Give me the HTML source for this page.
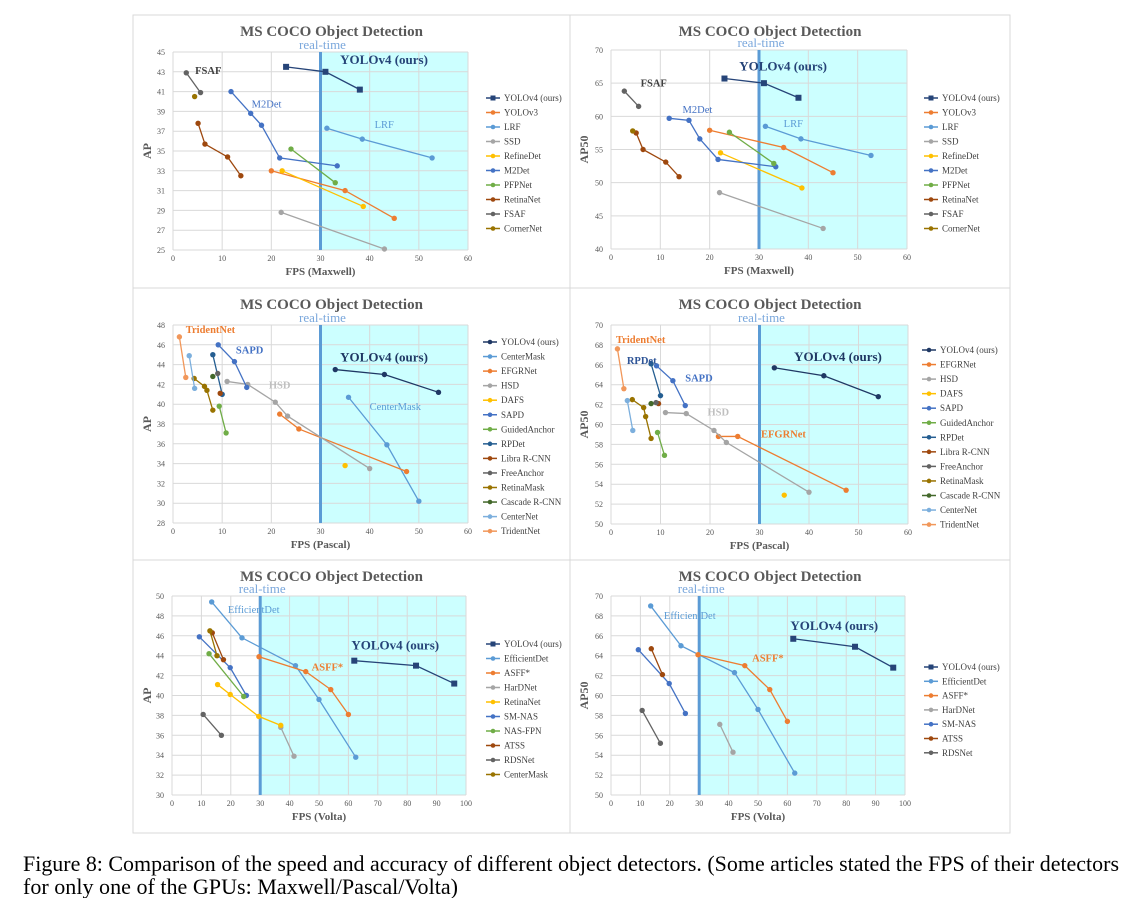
<!DOCTYPE html>
<html><head><meta charset="utf-8"><style>
body{margin:0;background:#fff;width:1142px;height:898px;overflow:hidden}
svg{display:block}
</style></head><body>
<svg id="fig" width="1142" height="898" xmlns="http://www.w3.org/2000/svg" font-family="Liberation Serif, serif">
<rect x="133" y="15" width="877" height="818" fill="#fff" stroke="#d9d9d9"/>
<text x="23" y="871" font-size="22" fill="#000" textLength="1096" lengthAdjust="spacingAndGlyphs">Figure 8: Comparison of the speed and accuracy of different object detectors. (Some articles stated the FPS of their detectors</text>
<text x="23" y="894" font-size="22" fill="#000" textLength="435" lengthAdjust="spacingAndGlyphs">for only one of the GPUs: Maxwell/Pascal/Volta)</text>
</svg>
<script>
const C={y4:'#264478',y3:'#ed7d31',lrf:'#5b9bd5',ssd:'#a5a5a5',ref:'#ffc000',m2:'#4472c4',pfp:'#70ad47',ret:'#9e480e',fsaf:'#636363',corner:'#997300',cm:'#5b9bd5',rp:'#255e91',casc:'#43682b',cn:'#7cafdd',tri:'#f1975a',y4p:'#1f3864'};
// ---- Panel 1 data (AP, Maxwell)
const p1Names=['YOLOv4 (ours)','YOLOv3','LRF','SSD','RefineDet','M2Det','PFPNet','RetinaNet','FSAF','CornerNet'];
const p1X=[[23,31,38],[20,35,45],[31.3,38.5,52.7],[22,43],[22.2,38.7],[11.8,15.8,18,21.7,33.4],[24,33],[5.1,6.5,11.1,13.8],[2.7,5.6],[4.4]];
const p1Y=[[43.5,43,41.2],[33,31,28.2],[37.3,36.2,34.3],[28.8,25.1],[33,29.4],[41,38.8,37.6,34.3,33.5],[35.2,31.8],[37.8,35.7,34.4,32.5],[42.9,40.9],[40.5]];
// ---- Panel 2 data (AP50, Maxwell)
const p2Y=[[65.7,65,62.8],[57.9,55.3,51.5],[58.5,56.6,54.1],[48.5,43.1],[54.5,49.2],[59.7,59.4,56.6,53.5,52.4],[57.6,52.9],[57.5,55,53.1,50.9],[63.8,61.5],[57.8]];
// ---- Panel 3/4 data (Pascal)
const p3Names=['YOLOv4 (ours)','CenterMask','EFGRNet','HSD','DAFS','SAPD','GuidedAnchor','RPDet','Libra R-CNN','FreeAnchor','RetinaMask','Cascade R-CNN','CenterNet','TridentNet'];
const p3X=[[33,43,54],[35.7,43.5,50],[21.7,25.6,47.5],[11,15.2,20.8,23.3,40],[35],[9.2,12.5,15],[9.4,10.8],[8.1,10],[9.6],[9.1],[4.3,6.4,6.9,8.1],[8.1],[3.3,4.4],[1.3,2.6]];
const p3Y=[[43.5,43,41.2],[40.7,35.9,30.2],[39,37.5,33.2],[42.3,42,40.2,38.8,33.5],[33.8],[46,44.3,41.7],[39.8,37.1],[45,41],[41.1],[43.1],[42.6,41.8,41.4,39.4],[42.8],[44.9,41.6],[46.8,42.7]];
const p4Names=['YOLOv4 (ours)','EFGRNet','HSD','DAFS','SAPD','GuidedAnchor','RPDet','Libra R-CNN','FreeAnchor','RetinaMask','Cascade R-CNN','CenterNet','TridentNet'];
const p4X=[[33,43,54],[21.7,25.6,47.5],[11,15.2,20.8,23.3,40],[35],[9.2,12.5,15],[9.4,10.8],[8.1,10],[9.6],[9.1],[4.3,6.6,7,8.1],[8.1],[3.3,4.4],[1.3,2.6]];
const p4Y=[[65.7,64.9,62.8],[58.8,58.8,53.4],[61.2,61.1,59.4,58.2,53.2],[52.9],[65.9,64.4,61.9],[59.2,56.9],[66.1,62.9],[62.1],[62.2],[62.5,61.7,60.8,58.6],[62.1],[62.4,59.4],[67.6,63.6]];
// ---- Panel 5/6 data (Volta)
const p5Names=['YOLOv4 (ours)','EfficientDet','ASFF*','HarDNet','RetinaNet','SM-NAS','NAS-FPN','ATSS','RDSNet','CenterMask'];
const p5X=[[62,83,96],[13.5,23.8,42,50,62.5],[29.6,45.5,54,60],[37,41.5],[15.5,19.8,29.5,37],[9.3,19.8,25.3],[12.6,24.4],[13.7,17.5],[10.6,16.8],[12.9,15.3]];
const p5Y=[[43.5,43,41.2],[49.4,45.8,43,39.6,33.8],[43.9,42.4,40.6,38.1],[36.8,33.9],[41.1,40.1,37.9,37],[45.9,42.8,40],[44.2,39.9],[46.3,43.6],[38.1,36],[46.5,44]];
const p6Names=['YOLOv4 (ours)','EfficientDet','ASFF*','HarDNet','SM-NAS','ATSS','RDSNet'];
const p6X=[[62,83,96],[13.5,23.8,42,50,62.5],[29.6,45.5,54,60],[37,41.5],[9.3,19.8,25.3],[13.7,17.5],[10.6,16.8]];
const p6Y=[[65.7,64.9,62.8],[69,65,62.3,58.6,52.2],[64.1,63,60.6,57.4],[57.1,54.3],[64.6,61.2,58.2],[64.7,62.1],[58.5,55.2]];

const NS='http://www.w3.org/2000/svg';
const svg=document.getElementById('fig');
function mk(tag,attrs,parent){const e=document.createElementNS(NS,tag);for(const k in attrs)e.setAttribute(k,attrs[k]);(parent||svg).appendChild(e);return e;}
function txt(s,attrs,parent){const e=mk('text',attrs,parent);e.textContent=s;return e;}

const panels=[
 {id:'p1',box:[133,15,437,273],x0:173,x1:468,xmax:60,xstep:10,y0:250,y1:52,ymin:25,ymax:45,ystep:2,ytitle:'AP',xtitle:'FPS (Maxwell)',names:p1Names,xs:p1X,ys:p1Y,
  cols:[C.y4,C.y3,C.lrf,C.ssd,C.ref,C.m2,C.pfp,C.ret,C.fsaf,C.corner],sq:[0],lx:486,ly:98,ls:14.5,
  labels:[['FSAF',4.5,42.8,'#404040'],['M2Det',16,39.4,'#4472c4',false],['LRF',41,37.3,'#5b9bd5',false],['YOLOv4 (ours)',34,43.8,'#264478',true]]},
 {id:'p2',box:[570,15,440,273],x0:611,x1:907,xmax:60,xstep:10,y0:249,y1:50,ymin:40,ymax:70,ystep:5,ytitle:'AP50',xtitle:'FPS (Maxwell)',names:p1Names,xs:p1X,ys:p2Y,
  cols:[C.y4,C.y3,C.lrf,C.ssd,C.ref,C.m2,C.pfp,C.ret,C.fsaf,C.corner],sq:[0],lx:924,ly:98,ls:14.5,
  labels:[['FSAF',6,64.5,'#404040'],['M2Det',14.5,60.5,'#4472c4',false],['LRF',35,58.4,'#5b9bd5',false],['YOLOv4 (ours)',26,66.9,'#264478',true]]},
 {id:'p3',box:[133,288,437,273],x0:173,x1:468,xmax:60,xstep:10,y0:523,y1:325,ymin:28,ymax:48,ystep:2,ytitle:'AP',xtitle:'FPS (Pascal)',names:p3Names,xs:p3X,ys:p3Y,
  cols:[C.y4p,C.cm,C.y3,C.ssd,C.ref,C.m2,C.pfp,C.rp,C.ret,C.fsaf,C.corner,C.casc,C.cn,C.tri],sq:[],lx:483,ly:342,ls:14.55,
  labels:[['TridentNet',2.6,47.2,'#ed7d31'],['SAPD',12.8,45.1,'#4472c4'],['HSD',19.5,41.6,'#bfbfbf'],['YOLOv4 (ours)',34,44.3,'#1f3864',true],['CenterMask',40,39.4,'#5b9bd5',false]]},
 {id:'p4',box:[570,288,440,273],x0:611,x1:908,xmax:60,xstep:10,y0:524,y1:325,ymin:50,ymax:70,ystep:2,ytitle:'AP50',xtitle:'FPS (Pascal)',names:p4Names,xs:p4X,ys:p4Y,
  cols:[C.y4p,C.y3,C.ssd,C.ref,C.m2,C.pfp,C.rp,C.ret,C.fsaf,C.corner,C.casc,C.cn,C.tri],sq:[],lx:922,ly:350,ls:14.55,
  labels:[['TridentNet',1,68.2,'#ed7d31'],['RPDet',3.2,66.1,'#2f5597'],['SAPD',15,64.3,'#4472c4'],['HSD',19.5,60.9,'#bfbfbf'],['YOLOv4 (ours)',37,66.4,'#1f3864',true],['EFGRNet',30.3,58.7,'#ed7d31']]},
 {id:'p5',box:[133,560,437,273],x0:172,x1:466,xmax:100,xstep:10,y0:795,y1:596,ymin:30,ymax:50,ystep:2,ytitle:'AP',xtitle:'FPS (Volta)',names:p5Names,xs:p5X,ys:p5Y,
  cols:[C.y4,C.lrf,C.y3,C.ssd,C.ref,C.m2,C.pfp,C.ret,C.fsaf,C.corner],sq:[0],lx:486,ly:644,ls:14.5,
  labels:[['EfficientDet',19,48.3,'#5b9bd5',false],['YOLOv4 (ours)',61,44.6,'#264478',true],['ASFF*',47.5,42.5,'#ed7d31']]},
 {id:'p6',box:[570,560,440,273],x0:611,x1:905,xmax:100,xstep:10,y0:795,y1:596,ymin:50,ymax:70,ystep:2,ytitle:'AP50',xtitle:'FPS (Volta)',names:p6Names,xs:p6X,ys:p6Y,
  cols:[C.y4,C.lrf,C.y3,C.ssd,C.m2,C.ret,C.fsaf],sq:[0],lx:924,ly:667,ls:14.3,
  labels:[['EfficientDet',18,67.7,'#5b9bd5',false],['YOLOv4 (ours)',61,66.6,'#264478',true],['ASFF*',48,63.4,'#ed7d31']]}
];

panels.forEach(p=>{
 const g=mk('g',{});
 
 
 const sx=v=>p.x0+(v/p.xmax)*(p.x1-p.x0);
 const sy=v=>p.y0-(v-p.ymin)/(p.ymax-p.ymin)*(p.y0-p.y1);
 const [bx,by,bw,bh]=p.box;
 mk('rect',{x:bx,y:by,width:bw,height:bh,fill:'#fff',stroke:'#d9d9d9'},g);
 const band=mk('rect',{x:sx(30),y:p.y1,width:p.x1-sx(30),height:p.y0-p.y1,fill:'#ccffff'},g);
 
 
 for(let v=0;v<=p.xmax;v+=p.xstep){
  mk('line',{x1:sx(v),x2:sx(v),y1:p.y1,y2:p.y0,stroke:'#d9d9d9','stroke-width':1},g);
  const t=txt(String(v),{x:sx(v),y:p.y0+11,'font-size':8,fill:'#595959','text-anchor':'middle'},g);
  
  
 }
 for(let v=p.ymin;v<=p.ymax+0.001;v+=p.ystep){
  mk('line',{x1:p.x0,x2:p.x1,y1:sy(v),y2:sy(v),stroke:'#d9d9d9','stroke-width':1},g);
  const t=txt(String(v),{x:p.x0-8,y:sy(v)+3,'font-size':8,fill:'#595959','text-anchor':'end'},g);
  
  
 }
 const rl=mk('line',{x1:sx(30),x2:sx(30),y1:p.y1,y2:p.y0,stroke:'#5b9bd5','stroke-width':3},g);
 
 
 const rt=txt('real-time',{x:sx(30)+2,y:p.y1-3,'font-size':13,fill:'#7aa7dc','text-anchor':'middle'},g);
 
 
 const tt=txt('MS COCO Object Detection',{x:bx+bw/2-20,y:by+21,'font-size':15,'font-weight':'bold',fill:'#595959','text-anchor':'middle'},g);
 
 
 const xt=txt(p.xtitle,{x:(p.x0+p.x1)/2,y:p.y0+25,'font-size':11,'font-weight':'bold',fill:'#595959','text-anchor':'middle'},g);
 
 
 const yt=txt(p.ytitle,{x:0,y:0,'font-size':12,'font-weight':'bold',fill:'#595959','text-anchor':'middle',transform:`translate(${bx+18},${(p.y0+p.y1)/2}) rotate(-90)`},g);
 
 
 p.names.forEach((n,i)=>{
  const col=p.cols[i];const xs=p.xs[i],ys=p.ys[i];const sq=p.sq.includes(i);
  const s=mk('g',{},g);
  
  
  if(xs.length>1){
   const pl=mk('polyline',{points:xs.map((x,k)=>sx(x)+','+sy(ys[k])).join(' '),fill:'none',stroke:col,'stroke-width':1.3},s);
   
   
  }
  xs.forEach((x,k)=>{
   let m;
   if(sq) m=mk('rect',{x:sx(x)-3,y:sy(ys[k])-3,width:6,height:6,fill:col},s);
   else m=mk('circle',{cx:sx(x),cy:sy(ys[k]),r:2.7,fill:col},s);
   
   
  });
  const ly=p.ly+i*p.ls;
  const le=mk('g',{},g);
  
  
  mk('line',{x1:p.lx,x2:p.lx+14,y1:ly,y2:ly,stroke:col,'stroke-width':1.5},le);
  if(sq) mk('rect',{x:p.lx+4.5,y:ly-2.5,width:5,height:5,fill:col},le);
  else mk('circle',{cx:p.lx+7,cy:ly,r:2.3,fill:col},le);
  txt(n,{x:p.lx+18,y:ly+3,'font-size':9,fill:'#404040'},le);
 });
 p.labels.forEach(l=>{
  const t=txt(l[0],{x:sx(l[1]),y:sy(l[2]),'font-size':l[4]?13:10.5,'font-weight':l[4]===false?'normal':'bold',fill:l[3]},g);
  
  
 });
});
</script>
</body></html>
